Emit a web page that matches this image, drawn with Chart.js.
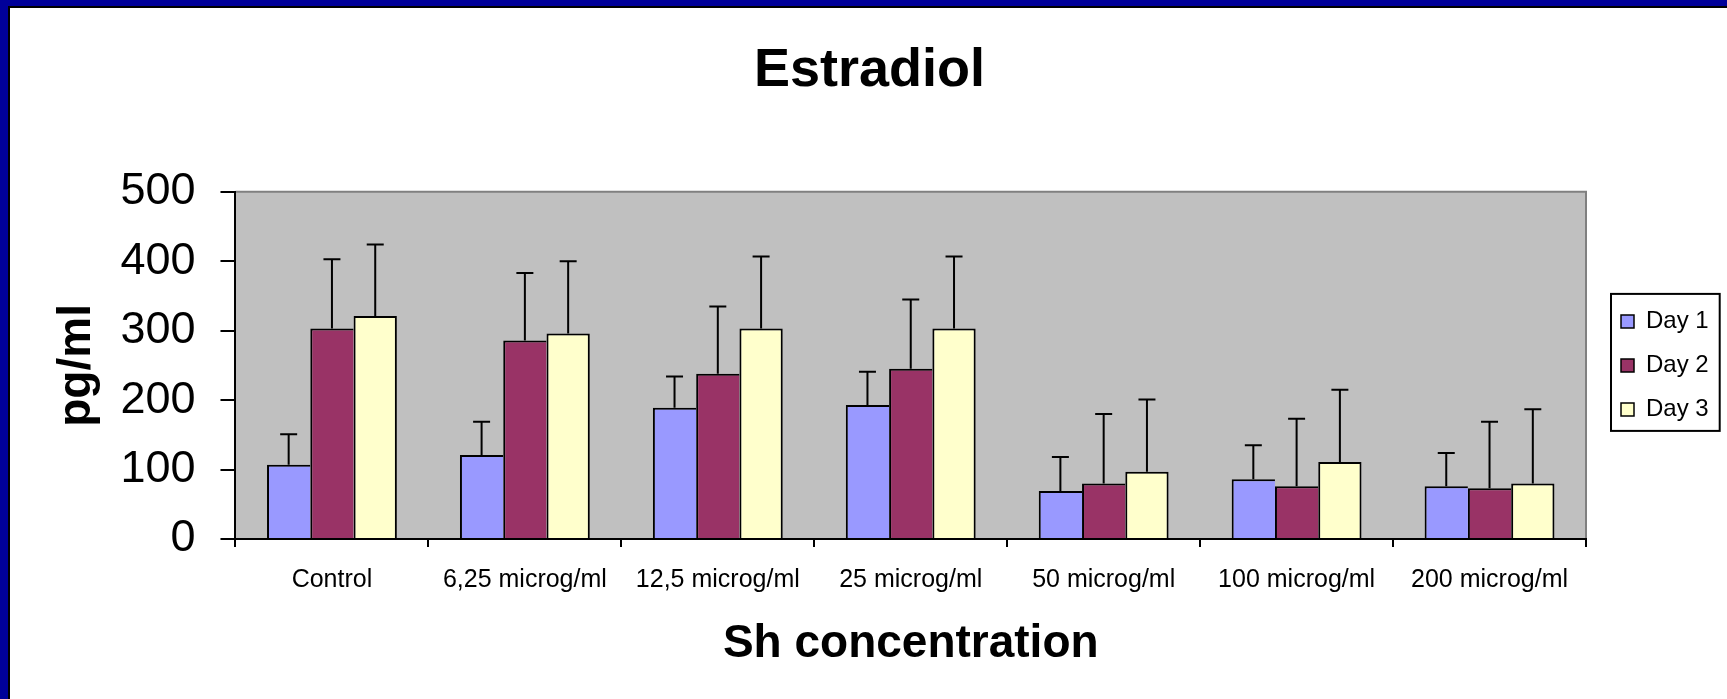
<!DOCTYPE html>
<html>
<head>
<meta charset="utf-8">
<title>Estradiol</title>
<script src="https://cdn.jsdelivr.net/npm/chart.js@4.4.1/dist/chart.umd.min.js"></script>
<style>
  html, body { margin: 0; padding: 0; background: #fff; }
  #wrap { position: relative; width: 1727px; height: 699px; overflow: hidden; background: #fff; }
  #wrap canvas { position: absolute; left: 0; top: 0; }
  .frame { position: absolute; pointer-events: none; }
</style>
</head>
<body>
<div id="wrap">
  <canvas id="chart" width="1727" height="699"></canvas>
  <!-- slide frame: navy band with a thin black inner rule -->
  <div class="frame" style="left:0;top:0;width:1727px;height:6px;background:#000099"></div>
  <div class="frame" style="left:0;top:0;width:8px;height:699px;background:#000099"></div>
  <div class="frame" style="left:8px;top:6px;width:1719px;height:2px;background:#000"></div>
  <div class="frame" style="left:8px;top:6px;width:2px;height:693px;background:#000"></div>
</div>
<script>
const FONT = "'Liberation Sans', Arial, Helvetica, sans-serif";

// Estradiol (pg/ml) by Sh concentration, mean and upper SD per day
const categories = ['Control', '6,25 microg/ml', '12,5 microg/ml', '25 microg/ml',
                    '50 microg/ml', '100 microg/ml', '200 microg/ml'];
const seriesNames = ['Day 1', 'Day 2', 'Day 3'];

const day1 = [107, 121, 189, 193, 69, 86, 76];
const day2 = [303, 286, 238, 245, 80, 76, 73];
const day3 = [321, 296, 303, 303, 97, 111, 80];

const day1Err = [44, 48, 45, 48, 49, 49, 48];
const day2Err = [100, 97, 97, 100, 100, 97, 96];
const day3Err = [103, 104, 104, 104, 104, 104, 107];

const yMin = 0;
const yMax = 500;
const yStep = 100;

const seriesColors = ['#9999FF', '#993366', '#FFFFCC'];

// grey plotting area with a darker top/right rule
const plotBackground = {
  id: 'plotBackground',
  beforeDraw(chart) {
    const { ctx, chartArea: a } = chart;
    ctx.save();
    ctx.fillStyle = '#C0C0C0';
    ctx.fillRect(a.left, a.top, a.right - a.left, a.bottom - a.top);
    ctx.strokeStyle = '#808080';
    ctx.lineWidth = 2;
    ctx.beginPath();
    ctx.moveTo(a.left, a.top);
    ctx.lineTo(a.right, a.top);
    ctx.lineTo(a.right, a.bottom);
    ctx.stroke();
    ctx.restore();
  }
};

// upper-only error bars with a short cap
const errorBars = {
  id: 'errorBars',
  afterDatasetsDraw(chart) {
    const { ctx } = chart;
    const yScale = chart.scales.y;
    ctx.save();
    ctx.strokeStyle = '#000';
    ctx.lineWidth = 2;
    chart.data.datasets.forEach((ds, i) => {
      const meta = chart.getDatasetMeta(i);
      if (meta.hidden) return;
      meta.data.forEach((bar, j) => {
        const top = yScale.getPixelForValue(ds.data[j] + ds.errors[j]);
        const half = 8.5;
        ctx.beginPath();
        ctx.moveTo(bar.x, bar.y);
        ctx.lineTo(bar.x, top);
        ctx.moveTo(bar.x - half, top);
        ctx.lineTo(bar.x + half, top);
        ctx.stroke();
      });
    });
    ctx.restore();
  }
};

// legend sits a little off the plot and gets a black frame
const legendFrame = {
  id: 'legendFrame',
  afterLayout(chart) {
    const lg = chart.legend;
    if (!lg) return;
    lg.left += 15;
    lg.right += 15;
  },
  afterDraw(chart) {
    const lg = chart.legend;
    if (!lg || !lg.legendHitBoxes || !lg.legendHitBoxes.length) return;
    const hb = lg.legendHitBoxes;
    const first = hb[0];
    const last = hb[hb.length - 1];
    const maxW = Math.max(...hb.map(h => h.width));
    const { ctx } = chart;
    ctx.save();
    ctx.strokeStyle = '#000';
    ctx.lineWidth = 2;
    const l = first.left - 10;
    const t = first.top - 15.5;
    const r = first.left + maxW + 11;
    const b = last.top + last.height + 9.5;
    ctx.strokeRect(l, t, r - l, b - t);
    ctx.restore();
  }
};

const datasets = [day1, day2, day3].map((values, i) => ({
  label: seriesNames[i],
  data: values,
  errors: [day1Err, day2Err, day3Err][i],
  backgroundColor: seriesColors[i],
  borderColor: '#000',
  borderWidth: i === 2 ? { top: 2, left: 2, right: 2, bottom: 0 } : { top: 2, left: 2, right: 0, bottom: 0 },
  borderSkipped: false,
  categoryPercentage: 0.673,
  barPercentage: 1.0
}));

new Chart(document.getElementById('chart'), {
  type: 'bar',
  data: { labels: categories, datasets },
  plugins: [plotBackground, errorBars, legendFrame],
  options: {
    responsive: false,
    animation: false,
    devicePixelRatio: 1,
    layout: { padding: { left: 35.3, right: 23.3, top: 0, bottom: 27 } },
    plugins: {
      title: {
        display: true,
        text: 'Estradiol',
        color: '#000',
        font: { family: FONT, size: 54, weight: 'bold' },
        padding: { top: 39, bottom: 88 }
      },
      legend: {
        position: 'right',
        fullSize: false,
        labels: {
          font: { family: FONT, size: 24 },
          color: '#000',
          boxWidth: 13,
          boxHeight: 13,
          padding: 20,
          generateLabels(chart) {
            return Chart.defaults.plugins.legend.labels.generateLabels(chart)
              .map(item => Object.assign(item, { lineWidth: 1.5 }));
          }
        }
      },
      tooltip: { enabled: false }
    },
    scales: {
      x: {
        grid: { display: true, drawOnChartArea: false, drawTicks: true, tickLength: 8,
                color: '#000', lineWidth: 2, offset: true },
        border: { display: true, color: '#000', width: 2 },
        ticks: { font: { family: FONT, size: 25 }, color: '#000', padding: 18,
                 maxRotation: 0, autoSkip: false },
        title: { display: true, text: 'Sh concentration', color: '#000',
                 font: { family: FONT, size: 46, weight: 'bold' },
                 padding: { top: 3.8, bottom: 0 } }
      },
      y: {
        min: yMin,
        max: yMax,
        ticks: { stepSize: yStep, font: { family: FONT, size: 45 }, color: '#000', padding: 25 },
        grid: { drawOnChartArea: false, drawTicks: true, tickLength: 15, color: '#000', lineWidth: 2 },
        border: { display: true, color: '#000', width: 2 },
        title: { display: true, text: 'pg/ml', color: '#000',
                 font: { family: FONT, size: 46, weight: 'bold', lineHeight: 0.8 },
                 padding: { top: 23.3, bottom: 0 } }
      }
    }
  }
});
</script>
</body>
</html>
